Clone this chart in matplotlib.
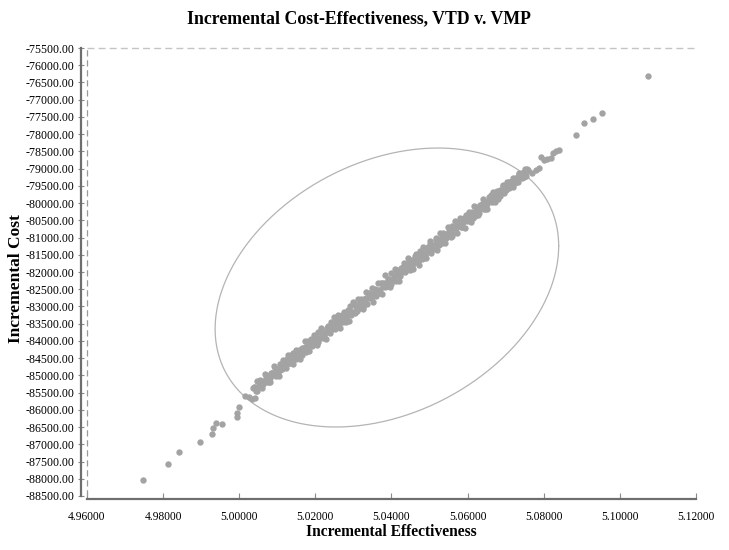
import numpy as np
import matplotlib
matplotlib.use("Agg")
import matplotlib.pyplot as plt

plt.rcParams['font.family'] = ['Liberation Serif', 'DejaVu Serif']

# core of the cloud (read along the dense band)
core_x = [5.0042 + 0.0008 * j for j in range(90)]
core_y = [
    -85337, -85336, -85216, -85175, -85035, -85064, -84944, -84833, -84832, -84712,
    -84681, -84550, -84570, -84419, -84379, -84258, -84268, -84157, -84056, -84066,
    -83926, -83925, -83805, -83764, -83624, -83653, -83533, -83422, -83421, -83301,
    -83270, -83139, -83159, -83008, -82968, -82847, -82857, -82746, -82645, -82655,
    -82514, -82513, -82393, -82352, -82212, -82241, -82121, -82010, -82009, -81889,
    -81859, -81728, -81748, -81597, -81557, -81436, -81446, -81335, -81234, -81244,
    -81103, -81102, -80982, -80941, -80801, -80830, -80710, -80599, -80598, -80478,
    -80447, -80316, -80336, -80185, -80145, -80024, -80034, -79923, -79822, -79832,
    -79691, -79690, -79570, -79529, -79389, -79418, -79298, -79187, -79186, -79066,
]

# middle layer of the band
mid_x = [5.0046 + 0.0008 * j for j in range(89)]
mid_y = [
    -85442, -85141, -85261, -85030, -85180, -84919, -84779, -84928, -84667, -84757,
    -84516, -84655, -84345, -84534, -84274, -84413, -84163, -84012, -84141, -83891,
    -84031, -83730, -83850, -83619, -83769, -83508, -83368, -83517, -83256, -83346,
    -83105, -83244, -82934, -83123, -82863, -83002, -82752, -82601, -82730, -82480,
    -82619, -82318, -82438, -82207, -82357, -82096, -81956, -82105, -81844, -81934,
    -81694, -81833, -81523, -81712, -81452, -81591, -81341, -81190, -81319, -81069,
    -81208, -80907, -81027, -80796, -80946, -80685, -80545, -80694, -80433, -80523,
    -80282, -80421, -80111, -80300, -80040, -80179, -79929, -79778, -79907, -79657,
    -79796, -79495, -79615, -79384, -79534, -79273, -79133, -79282, -79021,
]

# wider spread of the band
band_x = [5.0040 + 0.0004 * k for k in range(181)]
band_y = [
    -85325, -85460, -85174, -85319, -85154, -85359, -85153, -84968, -85193, -85017,
    -85192, -84917, -84991, -84736, -85011, -84826, -85020, -84675, -84810, -84564,
    -84639, -84784, -84408, -84643, -84418, -84683, -84457, -84272, -84497, -84291,
    -84526, -84191, -84305, -84000, -84315, -84090, -84284, -83939, -84064, -83818,
    -83893, -84128, -83752, -83927, -83622, -83907, -83731, -83946, -83571, -83695,
    -83440, -83655, -83319, -83664, -83439, -83244, -83618, -83283, -83458, -83152,
    -83447, -83172, -83436, -82991, -83176, -82871, -83185, -83000, -82795, -83039,
    -82785, -83080, -82784, -82569, -82924, -82639, -82763, -82468, -82863, -82567,
    -82702, -82317, -82531, -82306, -82641, -82306, -82100, -82415, -82250, -82434,
    -82039, -82234, -81908, -82273, -82018, -82273, -81877, -81992, -81727, -82001,
    -81796, -81581, -81935, -81640, -81925, -81660, -81464, -81689, -81804, -81398,
    -81623, -81278, -81452, -81597, -81272, -81097, -81451, -81216, -81301, -81015,
    -81360, -81045, -80879, -81144, -80859, -81154, -80898, -80683, -80928, -80982,
    -80677, -80812, -80516, -80861, -80596, -80441, -80705, -80540, -80715, -80339,
    -80504, -80249, -80553, -80258, -80083, -80378, -80202, -80357, -80042, -80156,
    -79891, -80176, -79970, -80165, -79810, -79895, -79969, -79664, -79959, -79713,
    -79879, -79614, -79708, -79483, -79708, -79533, -79397, -79572, -79397, -79441,
    -79286, -79411, -79275, -79390, -79165, -79240, -79114, -79229, -79084, -79018,
    -79033,
]

# sparse points at both ends
tail_x = [4.97482, 4.98124, 4.98429, 4.98982, 4.99276, 4.99303, 4.99395, 4.99545,
          4.99934, 4.99934, 4.99987, 5.00158, 5.00245, 5.00334, 5.00421, 5.00361,
          5.07474, 5.07539, 5.07579, 5.07703, 5.07789, 5.07868, 5.07921, 5.08008,
          5.08097, 5.08184, 5.08237, 5.08329, 5.08403, 5.08855, 5.09045, 5.09282,
          5.09518, 5.10729]
tail_y = [-88045, -87564, -87215, -86925, -86702, -86536, -86374, -86403,
          -86208, -86101, -85909, -85590, -85619, -85695, -85666, -85375,
          -79098, -79215, -79055, -79136, -79040, -78968, -78654, -78750,
          -78721, -78678, -78547, -78498, -78446, -78016, -77668, -77569,
          -77395, -76321]

# confidence ellipse
ell_cx, ell_cy = 5.0388, -82450
ell_sx, ell_sy, ell_r = 0.04513, 4048, 0.2975

fig = plt.figure(figsize=(7.29, 5.5), dpi=100)
ax = fig.add_axes([0.1193, 0.0982, 0.8354, 0.8145])

pt_color = '#a3a3a3'
for xs, ys in [(band_x, band_y), (mid_x, mid_y), (core_x, core_y), (tail_x, tail_y)]:
    ax.scatter(xs, ys, s=21, color=pt_color, linewidths=0, zorder=3)

t = np.linspace(0, 2 * np.pi, 400)
ex = ell_cx + ell_sx * np.cos(t)
ey = ell_cy + ell_sy * (ell_r * np.cos(t) + np.sqrt(1 - ell_r ** 2) * np.sin(t))
ax.plot(ex, ey, color='#b4b4b4', lw=0.9, zorder=2)

ax.set_xlim(4.96, 5.12)
ax.set_ylim(-88500, -75500)
ax.set_xticks(np.arange(4.96, 5.1201, 0.02))
ax.set_yticks(np.arange(-88500, -75499, 500))
ax.xaxis.set_major_formatter(matplotlib.ticker.FormatStrFormatter('%.5f'))
ax.yaxis.set_major_formatter(matplotlib.ticker.FormatStrFormatter('%.2f'))

ax.axhline(-75500, color='#c4c4c4', lw=1, ls=(0, (5, 3)), clip_on=False)
ax.axvline(4.96, color='#9a9a9a', lw=0.9, ls=(0, (5, 3)), clip_on=False)

for s in ['top', 'right']:
    ax.spines[s].set_visible(False)
ax.spines['left'].set_position(('outward', 4.5))
ax.spines['bottom'].set_position(('outward', 2.5))
for s in ['left', 'bottom']:
    ax.spines[s].set_color('#6e6e6e')
    ax.spines[s].set_linewidth(1.6)

ax.tick_params(axis='y', direction='inout', length=5, width=0.8, color='#8a8a8a',
               labelsize=8.6, pad=2)
ax.tick_params(axis='x', direction='in', length=4, width=0.8, color='#8a8a8a',
               labelsize=8.3, pad=8)

ax.set_xlabel('Incremental Effectiveness', fontsize=11.2, fontweight='bold', labelpad=1)
ax.set_ylabel('Incremental Cost', fontsize=12.5, fontweight='bold')
ax.yaxis.set_label_coords(-0.104, 0.485)
fig.suptitle('Incremental Cost-Effectiveness, VTD v. VMP', fontsize=12.8,
             fontweight='bold', x=0.492, y=0.966, va='center')

fig.savefig('out.png', dpi=100)
